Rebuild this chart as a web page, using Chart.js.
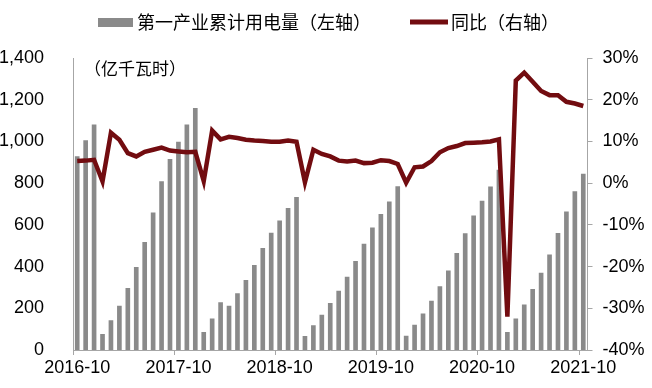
<!DOCTYPE html>
<html>
<head>
<meta charset="utf-8">
<script src="https://cdn.jsdelivr.net/npm/chart.js@4"></script>
<style>
  html, body { margin: 0; padding: 0; background: #fff; }
  #wrap { width: 652px; height: 388px; }
</style>
</head>
<body>
<div id="wrap"><canvas id="c" width="652" height="388"></canvas></div>
<script>
// months, 2016-10 .. 2021-10
const months = [
    '2016-10', '2016-11', '2016-12',
    '2017-01', '2017-02', '2017-03', '2017-04', '2017-05', '2017-06', '2017-07', '2017-08', '2017-09', '2017-10', '2017-11', '2017-12',
    '2018-01', '2018-02', '2018-03', '2018-04', '2018-05', '2018-06', '2018-07', '2018-08', '2018-09', '2018-10', '2018-11', '2018-12',
    '2019-01', '2019-02', '2019-03', '2019-04', '2019-05', '2019-06', '2019-07', '2019-08', '2019-09', '2019-10', '2019-11', '2019-12',
    '2020-01', '2020-02', '2020-03', '2020-04', '2020-05', '2020-06', '2020-07', '2020-08', '2020-09', '2020-10', '2020-11', '2020-12',
    '2021-01', '2021-02', '2021-03', '2021-04', '2021-05', '2021-06', '2021-07', '2021-08', '2021-09', '2021-10',
];

// 第一产业累计用电量 (亿千瓦时)
const usage = [
    927, 1004, 1079,
    75, 141, 211, 296, 396, 516, 658, 807, 914, 997, 1079, 1159,
    85, 150, 227, 211, 270, 334, 406, 488, 560, 619, 679, 732,
    66, 117, 168, 224, 283, 350, 425, 508, 586, 651, 711, 783,
    67, 120, 174, 235, 304, 379, 463, 558, 643, 714, 782, 863,
    85, 149, 216, 291, 369, 456, 559, 663, 759, 844,
];

// 同比 (%)
const yoy = [
    5.3, 5.4, 5.6,
    0.4, 12.1, 10.4, 7.2, 6.4, 7.5, 8.0, 8.5, 7.8, 7.6, 7.4, 7.5,
    0.5, 12.6, 10.5, 11.1, 10.8, 10.4, 10.2, 10.1, 9.9, 9.9, 10.2, 9.9,
    0.2, 8.0, 7.0, 6.4, 5.4, 5.2, 5.4, 4.8, 4.9, 5.5, 5.3, 4.6,
    0.1, 3.8, 4.0, 5.3, 7.4, 8.4, 8.9, 9.6, 9.7, 9.8, 10.0, 10.5,
    -32.0, 24.6, 26.5, 24.3, 22.1, 21.1, 21.1, 19.5, 19.1, 18.5,
];

const leftTicks = [0, 200, 400, 600, 800, 1000, 1200, 1400];
const rightTicks = [-40, -30, -20, -10, 0, 10, 20, 30];
const unitLabel = '（亿千瓦时）';

const BAR_COLOR = '#8a8a8a';
const LINE_COLOR = '#720c10';
const AXIS_COLOR = '#a6a6a6';
const NUM_FONT = { family: '"Liberation Sans", Arial, sans-serif', size: 18 };
const CJK_FONT = '"Noto Sans CJK SC", sans-serif';

// legend + unit text drawn on top
const legendAndUnit = {
    id: 'legendAndUnit',
    afterDraw(chart) {
        const ctx = chart.ctx;
        const bar = chart.data.datasets[1];
        const line = chart.data.datasets[0];
        ctx.save();
        ctx.font = `18px ${CJK_FONT}`;
        ctx.textBaseline = 'middle';

        ctx.fillStyle = BAR_COLOR;
        ctx.fillRect(98, 18, 35, 9);
        ctx.fillStyle = '#000';
        ctx.fillText(bar.label, 137, 22);

        ctx.strokeStyle = LINE_COLOR;
        ctx.lineWidth = 5;
        ctx.beginPath();
        ctx.moveTo(410, 22);
        ctx.lineTo(448, 22);
        ctx.stroke();
        ctx.fillText(line.label, 451, 22);

        ctx.font = `17px ${CJK_FONT}`;
        ctx.fillText(unitLabel, 84, 69);
        ctx.restore();
    }
};

new Chart(document.getElementById('c'), {
    type: 'bar',
    data: {
        labels: months,
        datasets: [
            {
                type: 'line',
                label: '同比（右轴）',
                data: yoy,
                yAxisID: 'y1',
                borderColor: LINE_COLOR,
                borderWidth: 4.5,
                pointRadius: 0,
                tension: 0,
                order: 0,
            },
            {
                type: 'bar',
                label: '第一产业累计用电量（左轴）',
                data: usage,
                yAxisID: 'y',
                backgroundColor: BAR_COLOR,
                barThickness: 4,
                order: 1,
            },
        ],
    },
    options: {
        responsive: false,
        animation: false,
        events: [],
        layout: { padding: { top: 58, left: 0, right: 0, bottom: 0 } },
        plugins: {
            legend: { display: false },
            tooltip: { enabled: false },
        },
        scales: {
            x: {
                offset: true,
                grid: {
                    offset: true,
                    drawOnChartArea: false,
                    drawTicks: true,
                    tickLength: 5,
                    color: (c) => (c.index % 12 === 0 ? AXIS_COLOR : 'transparent'),
                },
                border: { display: true, color: AXIS_COLOR, width: 1 },
                ticks: {
                    autoSkip: false,
                    maxRotation: 0,
                    padding: 2,
                    color: '#000',
                    font: NUM_FONT,
                    callback: (v, i) => (i % 12 === 0 ? months[i] : ''),
                },
                afterFit: (s) => { s.height = 38; },
            },
            y: {
                position: 'left',
                min: 0,
                max: 1400,
                afterBuildTicks: (s) => { s.ticks = leftTicks.map(v => ({ value: v })); },
                grid: { display: false },
                border: { display: true, color: AXIS_COLOR, width: 1 },
                ticks: {
                    padding: 21,
                    color: '#000',
                    font: NUM_FONT,
                    callback: (v) => v.toLocaleString('en-US'),
                },
                afterFit: (s) => { s.width = 73; },
            },
            y1: {
                position: 'right',
                min: -40,
                max: 30,
                afterBuildTicks: (s) => { s.ticks = rightTicks.map(v => ({ value: v })); },
                grid: {
                    drawOnChartArea: false,
                    drawTicks: true,
                    tickLength: 5,
                    color: AXIS_COLOR,
                },
                border: { display: true, color: AXIS_COLOR, width: 1 },
                ticks: {
                    padding: 10,
                    color: '#000',
                    font: NUM_FONT,
                    callback: (v) => v + '%',
                },
                afterFit: (s) => { s.width = 64.5; },
            },
        },
    },
    plugins: [legendAndUnit],
});
</script>
</body>
</html>
